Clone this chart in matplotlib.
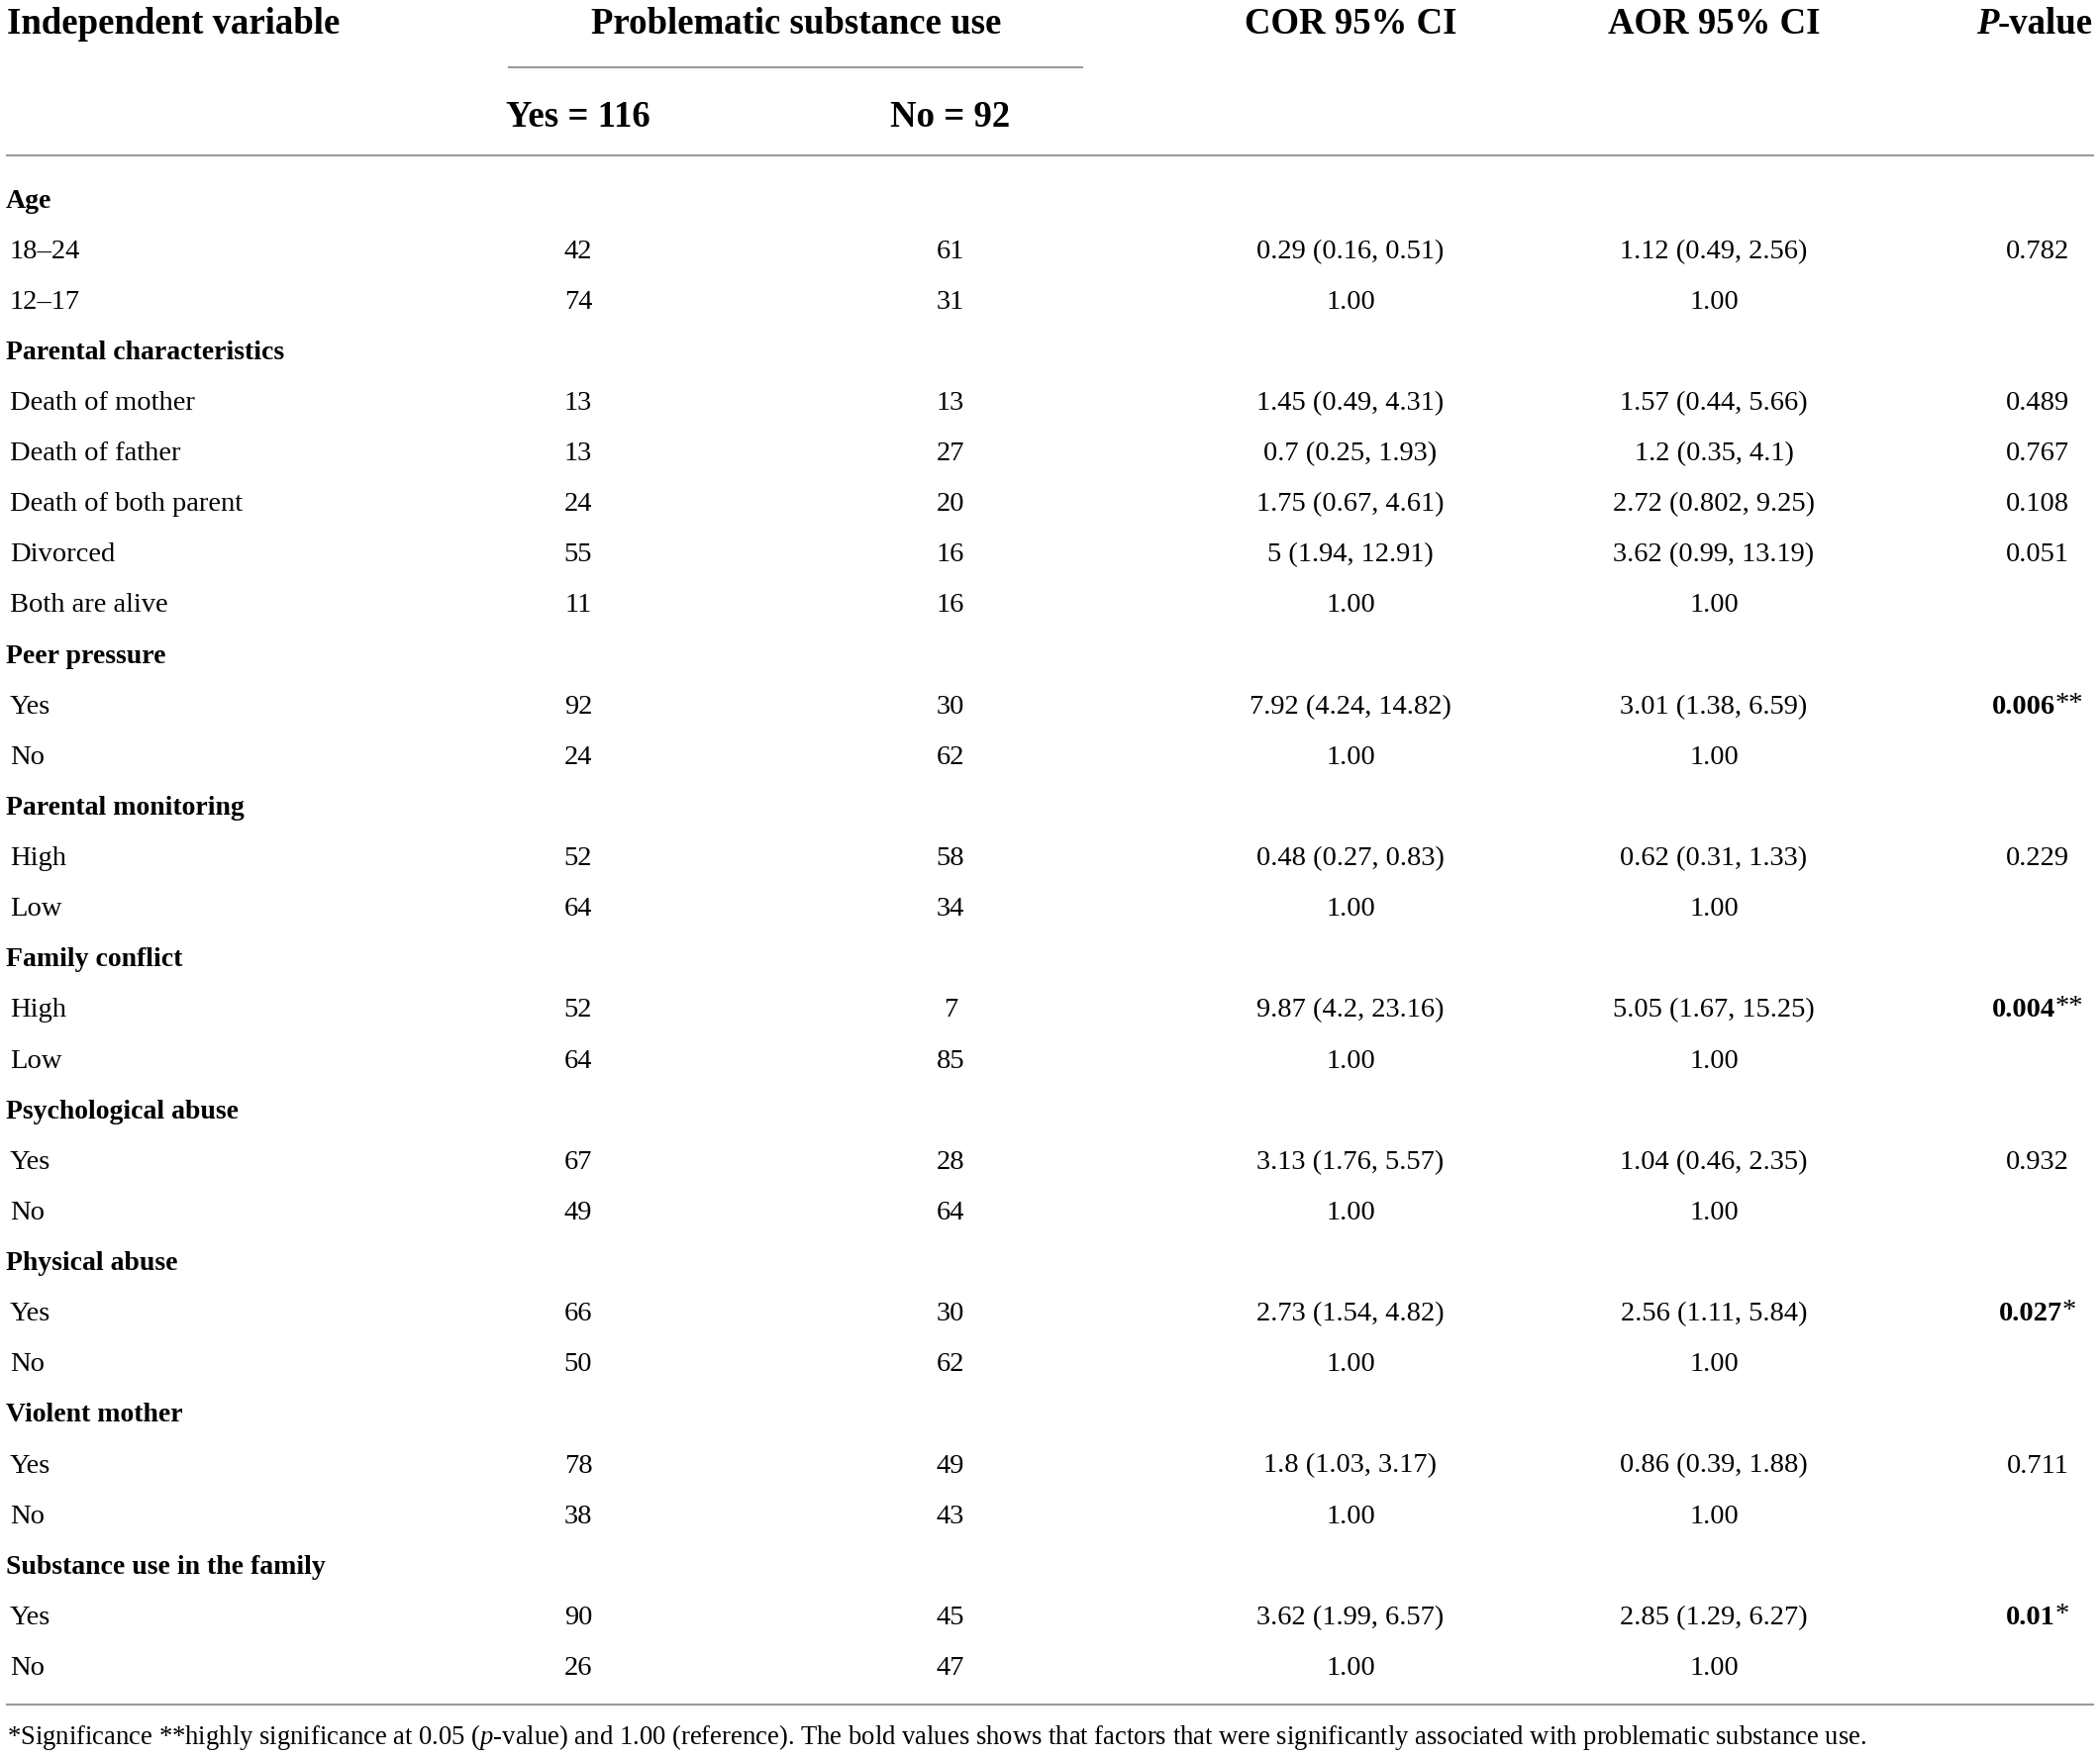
import matplotlib
matplotlib.use("Agg")
import matplotlib.pyplot as plt

plt.rcParams['font.family'] = ['Liberation Serif', 'DejaVu Serif']
plt.rcParams['mathtext.fontset'] = 'custom'
plt.rcParams['mathtext.rm'] = 'Liberation Serif'
plt.rcParams['mathtext.it'] = 'Liberation Serif:italic'

# table content
labels = ["Age", "18\u201324", "12\u201317",
          "Parental characteristics", "Death of mother", "Death of father",
          "Death of both parent", "Divorced", "Both are alive",
          "Peer pressure", "Yes", "No",
          "Parental monitoring", "High", "Low",
          "Family conflict", "High", "Low",
          "Psychological abuse", "Yes", "No",
          "Physical abuse", "Yes", "No",
          "Violent mother", "Yes", "No",
          "Substance use in the family", "Yes", "No"]
is_group = [True, False, False,
            True, False, False, False, False, False,
            True, False, False,
            True, False, False,
            True, False, False,
            True, False, False,
            True, False, False,
            True, False, False,
            True, False, False]
yes_n = ["", "42", "74", "", "13", "13", "24", "55", "11", "", "92", "24",
         "", "52", "64", "", "52", "64", "", "67", "49", "", "66", "50",
         "", "78", "38", "", "90", "26"]
no_n = ["", "61", "31", "", "13", "27", "20", "16", "16", "", "30", "62",
        "", "58", "34", "", "7", "85", "", "28", "64", "", "30", "62",
        "", "49", "43", "", "45", "47"]
cor = ["", "0.29 (0.16, 0.51)", "1.00", "", "1.45 (0.49, 4.31)", "0.7 (0.25, 1.93)",
       "1.75 (0.67, 4.61)", "5 (1.94, 12.91)", "1.00", "", "7.92 (4.24, 14.82)", "1.00",
       "", "0.48 (0.27, 0.83)", "1.00", "", "9.87 (4.2, 23.16)", "1.00",
       "", "3.13 (1.76, 5.57)", "1.00", "", "2.73 (1.54, 4.82)", "1.00",
       "", "1.8 (1.03, 3.17)", "1.00", "", "3.62 (1.99, 6.57)", "1.00"]
aor = ["", "1.12 (0.49, 2.56)", "1.00", "", "1.57 (0.44, 5.66)", "1.2 (0.35, 4.1)",
       "2.72 (0.802, 9.25)", "3.62 (0.99, 13.19)", "1.00", "", "3.01 (1.38, 6.59)", "1.00",
       "", "0.62 (0.31, 1.33)", "1.00", "", "5.05 (1.67, 15.25)", "1.00",
       "", "1.04 (0.46, 2.35)", "1.00", "", "2.56 (1.11, 5.84)", "1.00",
       "", "0.86 (0.39, 1.88)", "1.00", "", "2.85 (1.29, 6.27)", "1.00"]
pval = ["", "0.782", "", "", "0.489", "0.767", "0.108", "0.051", "", "", "0.006", "",
        "", "0.229", "", "", "0.004", "", "", "0.932", "", "", "0.027", "",
        "", "0.711", "", "", "0.01", ""]
p_stars = ["", "", "", "", "", "", "", "", "", "", "**", "",
           "", "", "", "", "**", "", "", "", "", "", "*", "",
           "", "", "", "", "*", ""]

footnote = ("*Significance **highly significance at 0.05 ($\\it{p}$-value) and 1.00 (reference). "
            "The bold values shows that factors that were significantly associated with problematic substance use.")

W, H = 2121, 1775
fig = plt.figure(figsize=(W / 100, H / 100), dpi=100)
ax = fig.add_axes([0, 0, 1, 1])
ax.set_xlim(0, W)
ax.set_ylim(H, 0)
ax.axis('off')
rend = fig.canvas.get_renderer()

hdr_fs = 26.5
body_fs = 20.5
grp_fs = 20
line_c = '#9a9a9a'

x_yes, x_no, x_cor, x_aor, x_p = 584, 960, 1364, 1731, 2058


def width_px(t):
    return t.get_window_extent(renderer=rend).width


# header
hy = 24
ax.text(7, hy, "Independent variable", fontsize=hdr_fs, fontweight='bold', va='center', ha='left')
ax.text(804, hy, "Problematic substance use", fontsize=hdr_fs, fontweight='bold', va='center', ha='center')
ax.text(x_cor, hy, "COR 95% CI", fontsize=hdr_fs, fontweight='bold', va='center', ha='center')
ax.text(x_aor, hy, "AOR 95% CI", fontsize=hdr_fs, fontweight='bold', va='center', ha='center')
tv = ax.text(2114, hy, "-value", fontsize=hdr_fs, fontweight='bold', va='baseline', ha='right')
ax.text(2114 - width_px(tv) + 1, hy, "P", fontsize=hdr_fs, fontweight='bold', fontstyle='italic',
        va='baseline', ha='right')
tv.set_y(hy + 10)
ax.texts[-1].set_y(hy + 10)
ax.plot([514, 1093], [68, 68], color=line_c, lw=1.5)
ax.text(x_yes, 118, "Yes = 116", fontsize=hdr_fs, fontweight='bold', va='center', ha='center')
ax.text(x_no, 118, "No = 92", fontsize=hdr_fs, fontweight='bold', va='center', ha='center')
ax.plot([7, 2114], [157, 157], color=line_c, lw=1.5)

# body rows
y0, step = 203, 51.12
for i, lab in enumerate(labels):
    y = y0 + i * step
    if is_group[i]:
        ax.text(6, y, lab, fontsize=grp_fs, fontweight='bold', va='center', ha='left')
        continue
    ax.text(10, y, lab, fontsize=body_fs, va='center', ha='left')
    ax.text(x_yes, y, yes_n[i], fontsize=body_fs, va='center', ha='center')
    ax.text(x_no, y, no_n[i], fontsize=body_fs, va='center', ha='center')
    ax.text(x_cor, y, cor[i], fontsize=body_fs, va='center', ha='center')
    ax.text(x_aor, y, aor[i], fontsize=body_fs, va='center', ha='center')
    if pval[i]:
        if p_stars[i]:
            tb = ax.text(0, y, pval[i], fontsize=body_fs, fontweight='bold', va='center', ha='left')
            ts = ax.text(0, y - 3, p_stars[i], fontsize=body_fs, va='center', ha='left')
            wb, ws = width_px(tb), width_px(ts)
            left = x_p - (wb + ws) / 2
            tb.set_x(left)
            ts.set_x(left + wb)
        else:
            ax.text(x_p, y, pval[i], fontsize=body_fs, va='center', ha='center')

ax.plot([7, 2114], [1722, 1722], color=line_c, lw=1.5)
ax.text(7, 1755, footnote, fontsize=19.2, va='center', ha='left')

fig.savefig("out.png", dpi=100, facecolor='white')
